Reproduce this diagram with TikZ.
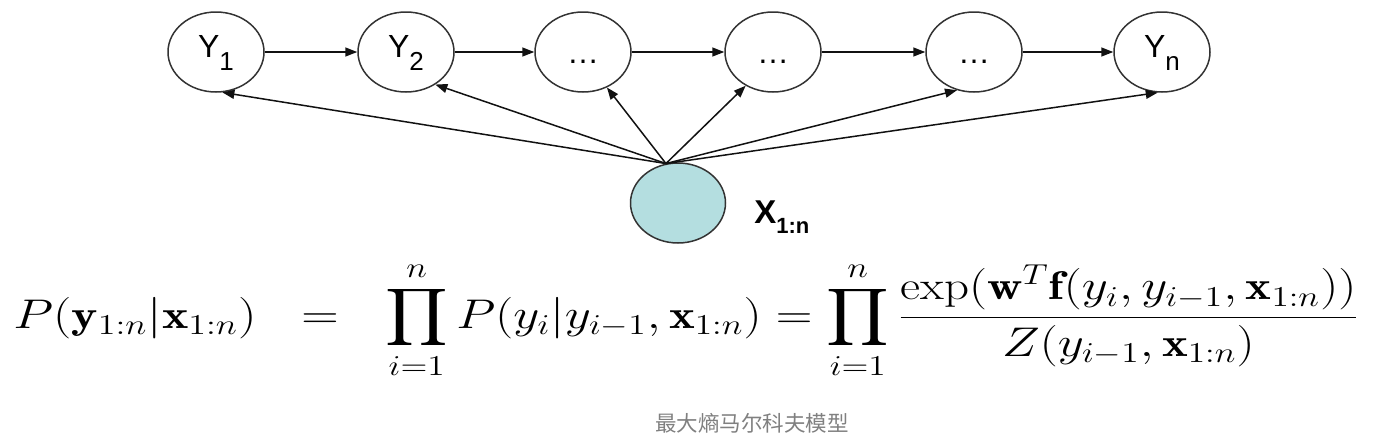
\documentclass[tikz,border=0pt]{standalone}
\usepackage{amsmath, amssymb}
\usepackage{fontspec}
\setsansfont{Liberation Sans}
\newfontfamily\cjkfont{Noto Sans CJK SC}
\usepackage{tikz}
\usetikzlibrary{shapes.geometric,arrows.meta}
\usepackage{xcolor}

\newcommand{\ysub}[1]{\raisebox{-6.5pt}{\fontsize{13}{13}\selectfont #1}}
\newcommand{\wide}[2][1.25]{\scalebox{#1}[1]{#2}}

\tikzset{
  ynode/.style={ellipse, draw={rgb,255:red,51;green,51;blue,51}, line width=0.75pt,
    minimum width=48pt, minimum height=40pt, inner sep=0pt,
    text height=11.5pt, text depth=6.5pt, font=\sffamily\fontsize{16}{16}\selectfont},
  xnode/.style={ellipse, draw={rgb,255:red,51;green,51;blue,51}, line width=0.75pt,
    fill={rgb,255:red,180;green,222;blue,224}, minimum width=47.5pt, minimum height=40pt, inner sep=0pt},
  link/.style={-{Triangle[length=6pt,width=4.5pt]}, line width=0.75pt, color={rgb,255:red,17;green,17;blue,17}},
  formula/.style={inner sep=0pt, font=\fontsize{20}{20}\selectfont}
}

\begin{document}
\begin{tikzpicture}[x=0.5pt,y=0.5pt,yscale=-1,xscale=1]
\useasboundingbox (0,0) rectangle (1387,440);

%Shape: Ellipse [chain]
\node [ynode] (y1) at (216,52) {Y\ysub{1}};
\node [ynode] (y2) at (406,52) {Y\ysub{2}};
\node [ynode] (d1) at (583,52) {\raisebox{-3pt}{…}};
\node [ynode] (d2) at (773,52) {\raisebox{-3pt}{…}};
\node [ynode] (d3) at (974,52) {\raisebox{-3pt}{…}};
\node [ynode] (yn) at (1162,52) {Y\ysub{n}};
%Shape: Ellipse [observed]
\node [xnode] (x) at (678,203) {};

%Straight Lines [chain]
\draw [link] (y1) -- (y2);
\draw [link] (y2) -- (d1);
\draw [link] (d1) -- (d2);
\draw [link] (d2) -- (d3);
\draw [link] (d3) -- (yn);
%Straight Lines [from x]
\draw [link] (x.107) -- (y1.-81);
\draw [link] (x.107) -- (y2.-48);
\draw [link] (x.107) -- (d1.-56);
\draw [link] (x.107) -- (d2.-129);
\draw [link] (x.107) -- (d3.-114);
\draw [link] (x.107) -- (yn.-96);

% Text Node
\node [anchor=base west, inner sep=0pt, font=\sffamily\bfseries\fontsize{16.5}{16.5}\selectfont] (xlab) at (754,223) {X\raisebox{-5pt}{\fontsize{11}{11}\selectfont 1:n}};
% Text Node
\node [formula, anchor=base west] (lhs) at (13,328) {\wide{$\displaystyle P(\mathbf{y}_{1:n}|\mathbf{x}_{1:n})$}};
% Text Node
\node [formula, anchor=base] (eq) at (320,328) {\wide{$=$}};
% Text Node
\node [formula, anchor=base west] (rhs) at (385,328) {\wide[1.225]{$\displaystyle \prod_{i=1}^{n} P(y_i|y_{i-1},\mathbf{x}_{1:n}) = \prod_{i=1}^{n}\frac{\exp(\mathbf{w}^T\mathbf{f}(y_i,y_{i-1},\mathbf{x}_{1:n}))}{Z(y_{i-1},\mathbf{x}_{1:n})}$}};
% Text Node
\node [inner sep=0pt, font=\cjkfont\fontsize{10.75}{10.75}\selectfont, text={rgb,255:red,128;green,128;blue,128}] (caption) at (752,423) {最大熵马尔科夫模型};
\end{tikzpicture}
\end{document}
